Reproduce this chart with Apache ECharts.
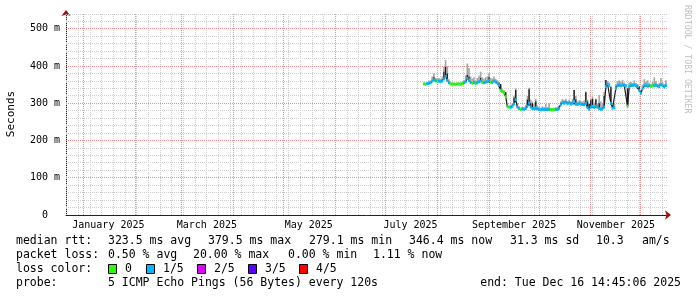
<!DOCTYPE html>
<html><head><meta charset="utf-8">
<script src="https://cdn.jsdelivr.net/npm/echarts@6/dist/echarts.min.js"></script>
<style>html,body{margin:0;padding:0;background:#fff}#c{width:697px;height:297px}</style>
</head><body><div id="c"></div><script>
// x unit: days since 1 Jan 2025 (graph spans last 360 days ending Tue Dec 16 14:45:06 2025)
const xMin = -10.385, xMax = 349.615;
const firstDay = 204; // first sample day
const median = [
352,351,353,354,355,360,363,361,359,360,
358,360,366,372,362,355,352,351,352,351,
352,352,351,353,355,358,367,362,356,354,
356,353,355,358,360,356,355,357,358,362,
357,356,360,357,355,350,335,331,328,318,
291,290,289,292,298,310,290,286,284,285,
284,286,292,300,290,286,285,288,285,284,
283,284,283,284,283,284,283,282,283,284,
283,286,296,302,300,303,299,301,298,300,
305,298,297,299,298,297,296,300,288,284,
290,292,289,292,290,286,284,285,290,345,
352,348,300,287,288,340,348,349,347,350,
348,346,292,345,349,348,350,347,346,335,
327,340,347,349,346,348,346,347,348,349,
346,345,350,347,344,348];
const smokeTop = [
356,355,357,360,362,372,381,368,366,368,
365,372,398,416,400,365,356,355,355,354,
356,355,356,358,362,375,407,395,372,366,
370,362,368,374,385,370,366,370,372,381,
368,366,372,366,362,356,345,338,335,330,
296,294,295,300,320,340,300,292,288,290,
289,296,320,342,310,305,298,312,295,290,
288,292,290,298,290,300,288,287,288,289,
290,294,305,312,308,312,306,310,305,312,
336,320,305,308,306,305,308,332,310,300,
312,318,302,313,300,322,305,298,330,363,
360,356,340,295,300,352,360,362,358,363,
356,352,340,356,358,355,362,355,352,345,
335,350,365,358,362,355,352,358,370,360,
352,355,368,356,352,362];
const n = null;
const darkTop = [
n,n,n,n,n,n,370,n,n,n,
n,n,385,398,380,n,n,n,n,n,
n,n,n,n,n,n,376,372,n,n,
n,n,n,n,368,n,n,n,n,370,
n,n,n,n,n,355,352,n,n,330,
n,n,n,n,315,336,n,n,n,n,
n,n,310,338,300,300,n,305,n,n,
n,n,n,n,n,n,n,n,n,n,
n,n,300,n,n,n,n,n,n,n,
336,310,n,n,n,n,n,330,305,298,
308,312,n,310,n,300,n,n,320,363,
n,n,345,n,n,345,n,n,n,n,
n,n,340,n,n,n,n,n,n,345,
n,n,n,n,n,n,n,n,n,n,
n,n,n,n,n,n];
const lossIdx = [
0,0,1,1,1,1,1,1,0,1,
1,1,1,1,1,1,0,0,0,0,
0,0,0,0,1,1,1,1,1,0,
1,0,1,1,1,0,1,1,1,1,
0,1,1,1,1,1,0,0,0,0,
0,0,1,1,1,1,1,1,0,1,
1,1,1,1,1,1,1,1,1,1,
1,1,1,1,1,1,0,0,0,1,
1,1,1,1,1,1,1,1,1,1,
1,1,1,1,1,1,1,1,1,1,
1,1,1,1,1,1,1,1,1,1,
1,1,1,1,1,1,1,1,1,1,
1,1,0,1,1,1,1,1,1,1,
1,1,1,1,1,1,0,0,1,1,
1,1,1,1,1,1];
const lossColors = ['#26ff00','#00b8ff','#dd00ff','#5e00ff','#ff0000'];
const lossLabels = ['0','1/5','2/5','3/5','4/5'];
const monthStarts = [0,31,59,90,120,151,181,212,243,273,304,334];
const monthLabelDays = [15,74,135,196,258,319];
const monthLabelText = ['January 2025','March 2025','May 2025','July 2025','September 2025','November 2025'];
const firstSunday = -10;
const yMax = 540;
const yMajorTicks = [100,200,300,400,500];
const yMinorStep = 20;

const sundays = [];
for (let d = firstSunday; d <= xMax; d += 7) if (monthStarts.indexOf(d) < 0) sundays.push(d);
const yMinorTicks = [];
for (let v = yMinorStep; v <= yMax; v += yMinorStep) if (v % 100 !== 0) yMinorTicks.push(v);

const days = median.map((_, i) => firstDay + i);
const smokeData = days.map((d, i) => [d, median[i], smokeTop[i]]);
const medData = days.map((d, i) => [d, median[i]]);
const vGridData = sundays.map(d => [d, 0]).concat(monthStarts.map(d => [d, 1]));
const hGridData = yMinorTicks.map(v => [v, 0]).concat(yMajorTicks.map(v => [v, 1]));

const MONO = '"DejaVu Sans Mono", monospace';
const MINOR = '#cccccc', MAJOR = '#e88e8e';

const chart = echarts.init(document.getElementById('c'), null, {renderer: 'canvas'});
const baseX = {type: 'value', min: xMin, max: xMax, gridIndex: 0, position: 'bottom'};
const baseY = {type: 'value', min: 0, max: yMax, gridIndex: 0, position: 'left'};

const legendTxt = (text, x, y, extra) => Object.assign({type: 'text', x: x, y: y, silent: true,
  style: {text: text, fontFamily: MONO, fontSize: 11.5, fill: '#000', verticalAlign: 'middle', align: 'left'}}, extra || {});

const graphics = [
  legendTxt('median rtt:', 16, 241),
  legendTxt('323.5 ms avg', 108, 241),
  legendTxt('379.5 ms max', 208, 241),
  legendTxt('279.1 ms min', 309, 241),
  legendTxt('346.4 ms now', 409, 241),
  legendTxt('31.3 ms sd', 510, 241),
  legendTxt('10.3', 596, 241),
  legendTxt('am/s', 642, 241),
  legendTxt('packet loss:', 16, 255),
  legendTxt('0.50 % avg', 108, 255),
  legendTxt('20.00 % max', 193, 255),
  legendTxt('0.00 % min', 288, 255),
  legendTxt('1.11 % now', 373, 255),
  legendTxt('loss color:', 16, 269),
  legendTxt('probe:', 16, 283),
  legendTxt('5 ICMP Echo Pings (56 Bytes) every 120s', 108, 283),
  {type: 'text', x: 681, y: 283, silent: true,
   style: {text: 'end: Tue Dec 16 14:45:06 2025', fontFamily: MONO, fontSize: 11.5, fill: '#000', verticalAlign: 'middle', align: 'right'}},
  {type: 'text', x: 11, y: 114, rotation: Math.PI / 2, silent: true,
   style: {text: 'Seconds', fontFamily: MONO, fontSize: 11, fill: '#000', verticalAlign: 'middle', align: 'center'}},
  {type: 'text', x: 687, y: 5, rotation: -Math.PI / 2, silent: true,
   style: {text: 'RRDTOOL / TOBI OETIKER', fontFamily: MONO, fontSize: 8.2, fill: '#c0c0c0', verticalAlign: 'middle', align: 'left'}}
];
const boxX = [108, 146, 197, 248, 299];
lossColors.forEach((c, i) => {
  graphics.push({type: 'rect', silent: true, shape: {x: boxX[i] + 0.5, y: 264.5, width: 8, height: 9},
    style: {fill: c, stroke: '#000', lineWidth: 1}});
  graphics.push(legendTxt(lossLabels[i], boxX[i] + 17, 269));
});

chart.setOption({
  animation: false,
  backgroundColor: '#ffffff',
  grid: {left: 66, right: 30, top: 14, bottom: 82, containLabel: false},
  xAxis: [
    Object.assign({}, baseX, {
      axisLine: {show: true, onZero: false, lineStyle: {color: '#222', width: 1}},
      axisTick: {show: false},
      splitLine: {show: false},
      axisLabel: {show: true, customValues: monthLabelDays, margin: 5, color: '#000', fontFamily: MONO, fontSize: 10,
        formatter: v => { const k = monthLabelDays.indexOf(v); return k >= 0 ? monthLabelText[k] : ''; }}
    }),
    Object.assign({}, baseX, {
      axisLine: {show: true, onZero: false, symbol: ['none', 'arrow'], symbolSize: [7, 6], symbolOffset: [0, 4],
        lineStyle: {color: '#a01010', width: 0}},
      axisLabel: {show: false}, axisTick: {show: false}, splitLine: {show: false}
    })
  ],
  yAxis: [
    Object.assign({}, baseY, {
      interval: 100,
      axisLine: {show: true, onZero: false, lineStyle: {color: '#222', width: 1}},
      axisTick: {show: false},
      axisLabel: {show: true, margin: 6, color: '#000', fontFamily: MONO, fontSize: 10, showMaxLabel: false,
        formatter: v => v === 0 ? '0\u00a0\u00a0' : v + ' m'},
      splitLine: {show: false}
    }),
    Object.assign({}, baseY, {
      axisLine: {show: true, onZero: false, symbol: ['none', 'arrow'], symbolSize: [7, 6], symbolOffset: [0, 4],
        lineStyle: {color: '#a01010', width: 0}},
      axisLabel: {show: false}, axisTick: {show: false}, splitLine: {show: false}
    })
  ],
  graphic: graphics,
  series: [
    {
      // vertical grid: weekly (minor) and monthly (major) lines
      type: 'custom', xAxisIndex: 0, yAxisIndex: 0, clip: true, z: 1, silent: true,
      data: vGridData,
      encode: {x: 0},
      renderItem: function (params, api) {
        const d = api.value(0), major = api.value(1) === 1;
        const top = api.coord([d, yMax]), bot = api.coord([d, 0]);
        const x = Math.floor(top[0]) + 0.5;
        return {type: 'line', shape: {x1: x, y1: top[1], x2: x, y2: bot[1]},
          style: {stroke: major ? MAJOR : MINOR, lineWidth: 1, lineDash: [1, 1]}};
      }
    },
    {
      // horizontal grid: 20 ms (minor) and 100 ms (major) lines
      type: 'custom', xAxisIndex: 0, yAxisIndex: 0, clip: true, z: 1, silent: true,
      data: hGridData,
      encode: {y: 0},
      renderItem: function (params, api) {
        const v = api.value(0), major = api.value(1) === 1;
        const l = api.coord([xMin, v]), r = api.coord([xMax, v]);
        const y = Math.floor(l[1]) + 0.5;
        return {type: 'line', shape: {x1: l[0], y1: y, x2: r[0], y2: y},
          style: {stroke: major ? MAJOR : MINOR, lineWidth: 1, lineDash: [1, 1]}};
      }
    },
    {
      type: 'custom', xAxisIndex: 0, yAxisIndex: 0, clip: true, z: 2,
      data: smokeData,
      encode: {x: 0, y: [1, 2]},
      renderItem: function (params, api) {
        const i = params.dataIndex;
        const d = api.value(0), m = api.value(1), h = api.value(2);
        const a = api.coord([d - 0.5, h]), b = api.coord([d + 0.5, m]);
        const children = [{type: 'rect', shape: {x: a[0], y: a[1], width: b[0] - a[0], height: b[1] - a[1]},
          style: {fill: '#a6a6a6'}}];
        const k = darkTop[i];
        if (k !== null) {
          const lo = Math.min(k, m), hi = Math.max(k, m);
          const c = api.coord([d - 0.4, hi]), e = api.coord([d + 0.4, lo]);
          children.push({type: 'rect', shape: {x: c[0], y: c[1], width: e[0] - c[0], height: e[1] - c[1]},
            style: {fill: '#1c1c1c'}});
        }
        return {type: 'group', children: children};
      }
    },
    {
      type: 'line', xAxisIndex: 0, yAxisIndex: 0, z: 3, symbol: 'none', silent: true,
      data: medData, lineStyle: {color: '#1c1c1c', width: 1.2}
    },
    {
      type: 'custom', xAxisIndex: 0, yAxisIndex: 0, clip: true, z: 4,
      data: medData,
      encode: {x: 0, y: 1},
      renderItem: function (params, api) {
        const i = params.dataIndex;
        const d = api.value(0), m = api.value(1);
        const a = api.coord([d - 0.55, m]), b = api.coord([d + 0.55, m]);
        return {type: 'rect', shape: {x: a[0], y: a[1] - 1.5, width: b[0] - a[0], height: 3},
          style: {fill: lossColors[lossIdx[i]]}};
      }
    }
  ]
});
</script></body></html>
